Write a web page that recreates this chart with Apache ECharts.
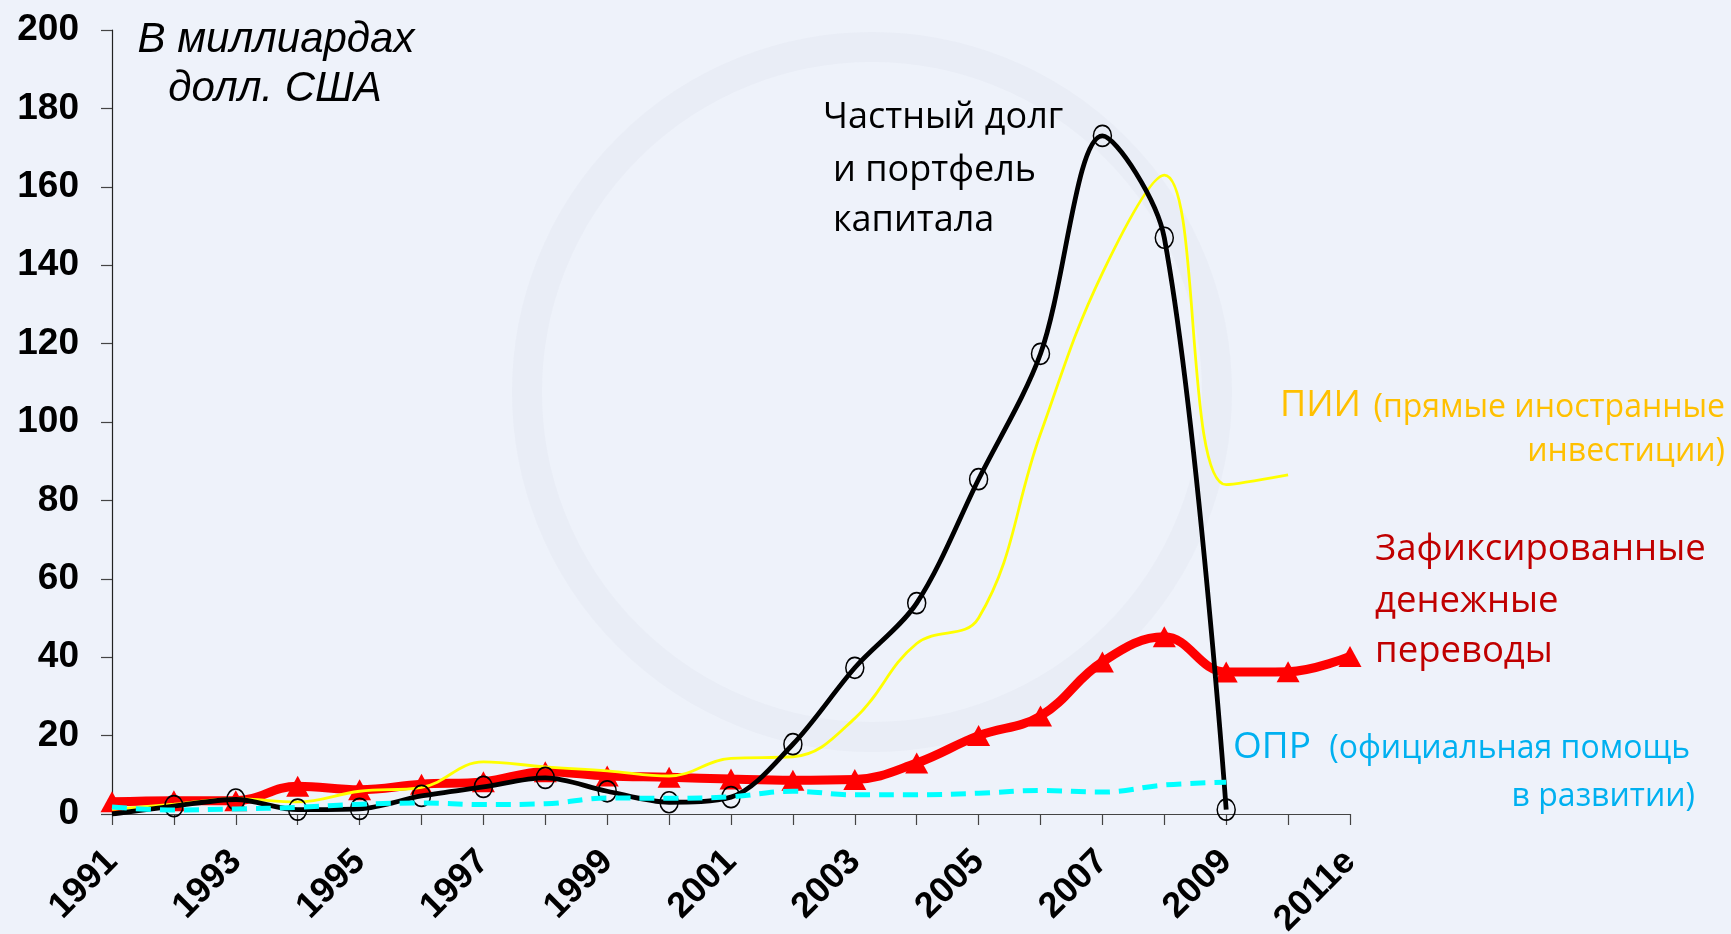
<!DOCTYPE html>
<html>
<head>
<meta charset="utf-8">
<script src="https://cdn.jsdelivr.net/npm/echarts@6/dist/echarts.min.js"></script>
<style>
html,body{margin:0;padding:0;background:#EEF2FA;}
#chart{width:1731px;height:934px;}
</style>
</head>
<body>
<div id="chart"></div>
<script>
// Categories (years); labels shown every other year
const years = ['1991','1992','1993','1994','1995','1996','1997','1998','1999','2000',
               '2001','2002','2003','2004','2005','2006','2007','2008','2009','2010','2011e'];

// Private debt and portfolio equity (billion USD)
const privateDebt = [0, 2.0, 3.7, 1.1, 1.3, 4.6, 6.9, 9.2, 5.8, 3.0,
                     4.3, 17.8, 37.3, 53.8, 85.4, 117.4, 173, 147, 1.1];
// Recorded remittances
const remittances = [3.1, 3.4, 3.4, 7.1, 6.2, 7.6, 8.2, 10.8, 9.7, 9.4,
                     8.9, 8.6, 8.8, 13.0, 20.0, 25.0, 38.8, 45.2, 36.2, 36.3, 40.2];
// FDI
const fdi = [1.2, 2.5, 3.9, 3.1, 5.8, 6.8, 13.3, 12.0, 11.0, 9.7,
             14.2, 14.6, 24.4, 43.5, 50.0, 97.0, 138, 163, 84.0, 86.5];
// ODA
const oda = [1.8, 1.0, 1.3, 1.7, 2.5, 2.8, 2.4, 2.6, 4.1, 4.0,
             4.4, 5.8, 4.9, 4.9, 5.3, 6.0, 5.6, 7.4, 8.1];

const yTicks = {min: 0, max: 200, interval: 20};

const chart = echarts.init(document.getElementById('chart'), null, {renderer: 'canvas'});

const annoFont = '"Open Sans", "Noto Sans", sans-serif';

const privateDebtData = privateDebt.map((v, i) => i === 0 ? {value: v, symbol: 'none'} : v);

chart.setOption({
  backgroundColor: '#EEF2FA',
  animation: false,
  grid: {left: 112, right: 381, top: 30, bottom: 120, containLabel: false, outerBoundsMode: 'none'},
  xAxis: {
    type: 'category',
    data: years,
    boundaryGap: false,
    axisLine: {show: true, lineStyle: {color: '#444', width: 1.2}},
    axisTick: {show: true, inside: false, length: 11, interval: 0, alignWithLabel: true, lineStyle: {color: '#444', width: 1.2}},
    axisLabel: {
      interval: 1, rotate: 45, margin: 42,
      fontFamily: '"Liberation Sans", Arial, sans-serif', fontWeight: 'bold', fontSize: 36, color: '#000'
    },
    splitLine: {show: false}
  },
  yAxis: {
    type: 'value',
    min: yTicks.min, max: yTicks.max, interval: yTicks.interval,
    axisLine: {show: true, lineStyle: {color: '#222', width: 1.2}},
    axisTick: {show: true, length: 11, lineStyle: {color: '#444', width: 1.2}},
    axisLabel: {
      margin: 33,
      fontFamily: '"Liberation Sans", Arial, sans-serif', fontWeight: 'bold', fontSize: 37, color: '#000'
    },
    splitLine: {show: false}
  },
  graphic: [
    {type: 'circle', silent: true, z: -10, shape: {cx: 872, cy: 392, r: 345},
     style: {fill: 'none', stroke: 'rgba(110,120,150,0.035)', lineWidth: 30}},
    {type: 'text', silent: true, style: {text: 'В миллиардах', x: 276, y: 40, textAlign: 'center', textVerticalAlign: 'middle',
      font: 'italic 42px "Liberation Sans", Arial, sans-serif', fill: '#000'}},
    {type: 'text', silent: true, style: {text: 'долл. США', x: 275, y: 89, textAlign: 'center', textVerticalAlign: 'middle',
      font: 'italic 42px "Liberation Sans", Arial, sans-serif', fill: '#000'}},
    {type: 'text', silent: true, style: {text: 'Частный долг', x: 823, y: 118, textAlign: 'left', textVerticalAlign: 'middle',
      font: '36px ' + annoFont, fill: '#000'}},
    {type: 'text', silent: true, style: {text: 'и портфель', x: 833, y: 171, textAlign: 'left', textVerticalAlign: 'middle',
      font: '36px ' + annoFont, fill: '#000'}},
    {type: 'text', silent: true, style: {text: 'капитала', x: 833, y: 221, textAlign: 'left', textVerticalAlign: 'middle',
      font: '36px ' + annoFont, fill: '#000'}},
    {type: 'text', silent: true, style: {text: 'ПИИ', x: 1280, y: 406, textAlign: 'left', textVerticalAlign: 'middle',
      font: '36px ' + annoFont, fill: '#FFC000'}},
    {type: 'text', silent: true, style: {text: '(прямые иностранные', x: 1725, y: 408, textAlign: 'right', textVerticalAlign: 'middle',
      font: '32px ' + annoFont, fill: '#FFC000'}},
    {type: 'text', silent: true, style: {text: 'инвестиции)', x: 1725, y: 452, textAlign: 'right', textVerticalAlign: 'middle',
      font: '32px ' + annoFont, fill: '#FFC000'}},
    {type: 'text', silent: true, style: {text: 'Зафиксированные', x: 1375, y: 550, textAlign: 'left', textVerticalAlign: 'middle',
      font: '36.5px ' + annoFont, fill: '#C00000'}},
    {type: 'text', silent: true, style: {text: 'денежные', x: 1375, y: 602, textAlign: 'left', textVerticalAlign: 'middle',
      font: '36.5px ' + annoFont, fill: '#C00000'}},
    {type: 'text', silent: true, style: {text: 'переводы', x: 1375, y: 652, textAlign: 'left', textVerticalAlign: 'middle',
      font: '36.5px ' + annoFont, fill: '#C00000'}},
    {type: 'text', silent: true, style: {text: 'ОПР', x: 1233, y: 747, textAlign: 'left', textVerticalAlign: 'middle',
      font: '37px ' + annoFont, fill: '#00B0F0'}},
    {type: 'text', silent: true, style: {text: '(официальная помощь', x: 1690, y: 749, textAlign: 'right', textVerticalAlign: 'middle',
      font: '32px ' + annoFont, fill: '#00B0F0'}},
    {type: 'text', silent: true, style: {text: 'в развитии)', x: 1695, y: 797, textAlign: 'right', textVerticalAlign: 'middle',
      font: '32px ' + annoFont, fill: '#00B0F0'}}
  ],
  series: [
    {
      name: 'Зафиксированные денежные переводы', type: 'line', data: remittances, smooth: 0.4, z: 2,
      symbol: 'triangle', symbolSize: [23, 21], showSymbol: true,
      lineStyle: {color: '#FF0000', width: 9},
      itemStyle: {color: '#FF0000'}
    },
    {
      name: 'ПИИ', type: 'line', data: fdi, smooth: 0.4, z: 3,
      symbol: 'none', lineStyle: {color: '#FFFF00', width: 2.8}
    },
    {
      name: 'Частный долг и портфель капитала', type: 'line', data: privateDebtData, smooth: 0.32, z: 4,
      symbol: 'circle', symbolSize: [18, 21], showSymbol: true,
      lineStyle: {color: '#000', width: 4.8},
      itemStyle: {color: 'rgba(0,0,0,0)', borderColor: '#000', borderWidth: 1.6}
    },
    {
      name: 'ОПР', type: 'line', data: oda, smooth: 0.4, z: 5,
      symbol: 'none', lineStyle: {color: '#00FFFF', width: 5, type: [15, 9]}
    }
  ]
});
</script>
</body>
</html>
